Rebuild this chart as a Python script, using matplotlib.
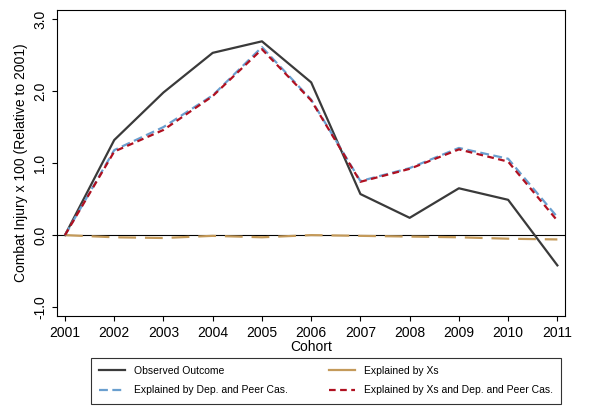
import numpy as np
import matplotlib.pyplot as plt
from matplotlib.lines import Line2D

years = np.arange(2001, 2012)
observed = [0, 1.32, 1.98, 2.53, 2.69, 2.12, 0.57, 0.24, 0.65, 0.49, -0.42]
dep_peer = [0, 1.18, 1.50, 1.94, 2.61, 1.88, 0.75, 0.93, 1.21, 1.06, 0.25]
xs_dep_peer = [0, 1.16, 1.46, 1.93, 2.58, 1.87, 0.74, 0.92, 1.19, 1.02, 0.20]
xs = [0, -0.03, -0.04, -0.01, -0.03, 0.0, -0.01, -0.02, -0.03, -0.05, -0.06]

plt.rcParams['font.family'] = ['Liberation Sans', 'DejaVu Sans']
fig = plt.figure(figsize=(5.95, 4.16), dpi=100)
ax = fig.add_axes([0.096, 0.24, 0.854, 0.736])

ax.axhline(0, color='black', lw=0.8)
ax.plot(years, observed, color='#3a3a3a', lw=1.6)
ax.plot(years, xs, color='#c49a5a', lw=1.6, dashes=(8, 4))
ax.plot(years, dep_peer, color='#6a9fcf', lw=1.6, dashes=(4, 2))
ax.plot(years, xs_dep_peer, color='#b01020', lw=1.6, dashes=(3, 2))

ax.set_xlim(2000.84, 2011.16)
ax.set_ylim(-1.125, 3.125)
ax.set_xticks(years)
ax.set_yticks([-1, 0, 1, 2, 3])
ax.set_yticklabels(['-1.0', '0.0', '1.0', '2.0', '3.0'], rotation=90, va='center')
ax.tick_params(labelsize=10)
ax.set_xlabel('Cohort', fontsize=10, labelpad=0)
ax.set_ylabel('Combat Injury x 100 (Relative to 2001)', fontsize=10)

# column-wise fill: obs, dep/peer | xs, xs+dep/peer
handles = [
    Line2D([], [], color='#3a3a3a', lw=1.6),
    Line2D([], [], color='#6a9fcf', lw=1.6, dashes=(4, 2)),
    Line2D([], [], color='#c49a5a', lw=1.6),
    Line2D([], [], color='#b01020', lw=1.6, dashes=(3, 2)),
]
labels = ['Observed Outcome', 'Explained by Dep. and Peer Cas.',
          'Explained by Xs', 'Explained by Xs and Dep. and Peer Cas.']
leg = fig.legend(handles, labels, ncol=2, loc='upper center', bbox_to_anchor=(0.548, 0.14),
                 fontsize=7.5, frameon=True, fancybox=False, edgecolor='black',
                 columnspacing=4, handlelength=2.5, labelspacing=0.9,
                 borderpad=0.8, borderaxespad=0)
leg.get_frame().set_linewidth(0.8)

fig.savefig('out.png', dpi=100)
